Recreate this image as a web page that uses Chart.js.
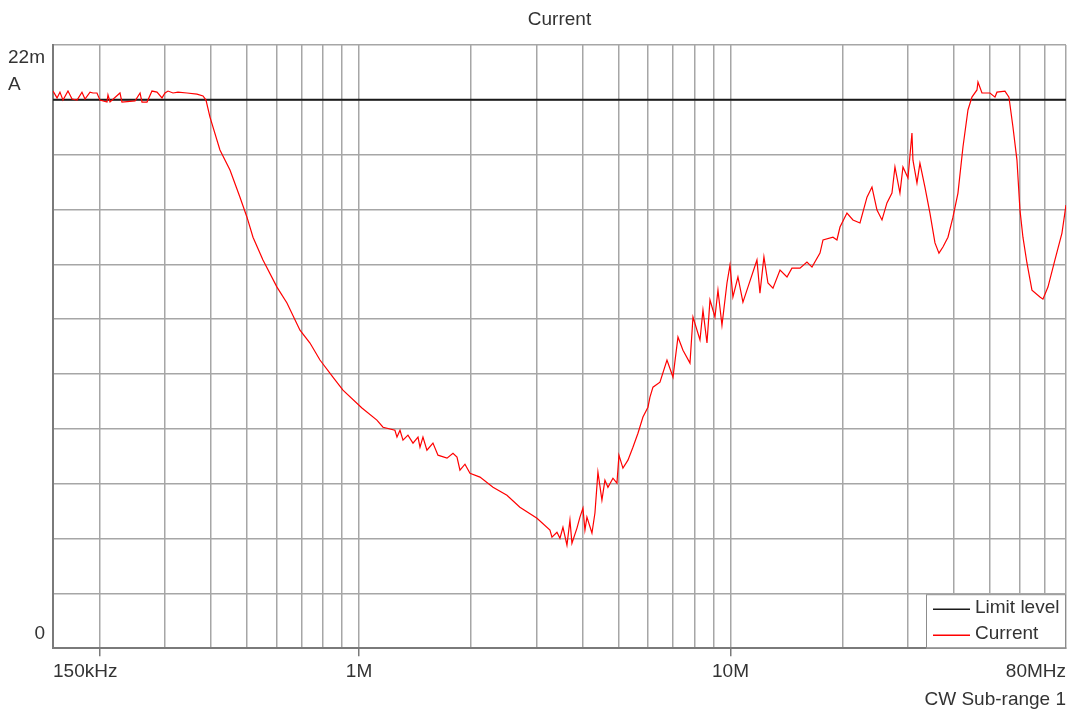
<!DOCTYPE html>
<html>
<head>
<meta charset="utf-8">
<script src="https://cdn.jsdelivr.net/npm/chart.js@4.4.1/dist/chart.umd.min.js"></script>
<style>
  html, body { margin: 0; padding: 0; background: #fff; }
  #wrap { width: 1073px; height: 711px; }
</style>
</head>
<body>
<div id="wrap"><canvas id="chart"></canvas></div>
<script>
  // frequency in MHz, current in mA
  const freqMHz = [
    0.15, 0.1538, 0.1566, 0.1596, 0.1646, 0.1688, 0.1741, 0.1795, 0.1829, 0.1887,
    0.1922, 0.1970, 0.2007, 0.2096, 0.2109, 0.2136, 0.2272, 0.2300, 0.2495, 0.2573,
    0.2604, 0.2687, 0.2770, 0.2858, 0.2948, 0.3003, 0.3060, 0.3156, 0.3255, 0.3442,
    0.3662, 0.3801, 0.3872, 0.3969, 0.4222, 0.4493, 0.4780, 0.4992, 0.5182, 0.5512,
    0.6012, 0.6396, 0.6934, 0.7377, 0.7848, 0.8505, 0.9050, 1.018, 1.117, 1.160,
    1.249, 1.265, 1.289, 1.313, 1.354, 1.397, 1.441, 1.459, 1.486, 1.523,
    1.581, 1.631, 1.725, 1.790, 1.835, 1.869, 1.928, 1.989, 2.116, 2.294,
    2.501, 2.710, 3.013, 3.265, 3.306, 3.410, 3.474, 3.539, 3.628, 3.696,
    3.742, 3.860, 3.932, 4.006, 4.056, 4.106, 4.236, 4.315, 4.396, 4.506,
    4.591, 4.677, 4.825, 4.946, 5.008, 5.133, 5.295, 5.461, 5.634, 5.811,
    5.994, 6.069, 6.183, 6.457, 6.744, 7.000, 7.220, 7.447, 7.778, 7.924,
    8.275, 8.430, 8.642, 8.804, 9.081, 9.251, 9.483, 9.782, 9.966, 10.15,
    10.47, 10.80, 11.14, 11.78, 12.00, 12.30, 12.61, 13.01, 13.59, 14.19,
    14.63, 15.38, 16.06, 16.57, 17.41, 17.74, 18.87, 19.34, 19.71, 20.58,
    21.36, 22.31, 23.30, 24.03, 24.79, 25.57, 26.37, 27.20, 27.71, 28.58,
    29.12, 30.04, 30.79, 30.98, 31.76, 32.35, 33.37, 34.42, 35.51, 36.40,
    37.31, 38.49, 39.70, 40.95, 42.24, 43.57, 44.66, 46.07, 46.36, 47.52,
    49.93, 51.51, 52.15, 54.80, 56.17, 57.58, 59.03, 60.14, 61.26, 62.80,
    64.78, 68.07, 69.35, 71.53, 74.70, 78.02, 80.00
  ];
  const currentmA = [
    20.32, 20.07, 20.28, 19.99, 20.32, 20.03, 19.99, 20.28, 20.03, 20.28,
    20.25, 20.25, 19.99, 19.92, 20.18, 19.92, 20.25, 19.92, 19.96, 20.25,
    19.92, 19.92, 20.32, 20.28, 20.07, 20.25, 20.32, 20.25, 20.28, 20.25,
    20.21, 20.14, 19.99, 19.37, 18.17, 17.44, 16.45, 15.72, 14.99, 14.16,
    13.17, 12.59, 11.60, 11.13, 10.51, 9.89, 9.41, 8.76, 8.32, 8.06,
    7.95, 7.70, 7.95, 7.59, 7.77, 7.48, 7.70, 7.33, 7.70, 7.22,
    7.48, 7.04, 6.93, 7.11, 6.97, 6.49, 6.71, 6.38, 6.24, 5.87,
    5.58, 5.14, 4.74, 4.31, 4.05, 4.23, 4.01, 4.41, 3.76, 4.67,
    3.83, 4.38, 4.78, 5.11, 4.31, 4.78, 4.20, 4.93, 6.42, 5.40,
    6.13, 5.87, 6.20, 6.02, 7.04, 6.57, 6.86, 7.33, 7.84, 8.43,
    8.79, 9.16, 9.52, 9.70, 10.51, 9.89, 11.35, 10.87, 10.40, 12.08,
    11.24, 12.33, 11.13, 12.70, 12.08, 13.06, 11.78, 13.32, 13.97, 12.81,
    13.54, 12.62, 13.17, 14.16, 12.95, 14.27, 13.32, 13.13, 13.79, 13.54,
    13.86, 13.86, 14.08, 13.90, 14.41, 14.89, 14.99, 14.89, 15.36, 15.87,
    15.62, 15.51, 16.45, 16.82, 15.98, 15.62, 16.24, 16.60, 17.55, 16.60,
    17.55, 17.15, 18.79, 17.80, 16.97, 17.69, 16.82, 15.87, 14.78, 14.41,
    14.63, 14.99, 15.72, 16.60, 18.28, 19.63, 20.10, 20.36, 20.65, 20.25,
    20.25, 20.10, 20.28, 20.32, 20.10, 19.01, 17.80, 15.98, 14.99, 14.05,
    13.06, 12.81, 12.73, 13.17, 14.16, 15.14, 16.16
  ];
  const limitFreqMHz = [0.15, 80];
  const limitmA = [20, 20];

  const xMin = 0.15, xMax = 80;
  const yMin = 0, yMax = 22, yStep = 2;
  const xGridValues = [
    0.15, 0.2, 0.3, 0.4, 0.5, 0.6, 0.7, 0.8, 0.9,
    1, 2, 3, 4, 5, 6, 7, 8, 9,
    10, 20, 30, 40, 50, 60, 70, 80
  ];
  const xLabelValues = [0.15, 1, 10, 80];
  const xLabelTexts = ['150kHz', '1M', '10M', '80MHz'];
  const xTickMarkValues = [0.2, 1, 10];
  const yTopLabel = ['22m', 'A'];
  const yBottomLabel = '0';

  const FONT = '"Liberation Sans", Arial, sans-serif';
  const TEXT = '#333';
  const GRID = '#a6a6a6';
  const AXIS = '#7a7a7a';

  Chart.defaults.font.family = FONT;
  Chart.defaults.font.size = 19;
  Chart.defaults.color = TEXT;

  const overlay = {
    id: 'overlay',
    afterDraw(chart) {
      const { ctx, chartArea, scales } = chart;
      ctx.save();
      ctx.font = '19px ' + FONT;
      ctx.fillStyle = TEXT;
      ctx.textBaseline = 'middle';

      // y axis end labels
      const yTop = scales.y.getPixelForValue(yMax);
      ctx.textAlign = 'left';
      ctx.fillText(yTopLabel[0], 8, yTop + 13);
      ctx.fillText(yTopLabel[1], 8, yTop + 40);
      ctx.textAlign = 'right';
      ctx.fillText(yBottomLabel, 45, scales.y.getPixelForValue(yMin) - 14);

      // legend box inside the plot, bottom right
      const w = 140, h = 54;
      const left = chartArea.right - w, top = chartArea.bottom - h;
      ctx.fillStyle = '#fff';
      ctx.fillRect(left, top, w, h);
      ctx.strokeStyle = '#8c8c8c';
      ctx.lineWidth = 1;
      ctx.strokeRect(left + 0.5, top + 0.5, w - 1, h - 1);
      ctx.textAlign = 'left';
      chart.data.datasets.forEach((ds, i) => {
        const yy = top + 15 + i * 26;
        ctx.strokeStyle = ds.borderColor;
        ctx.lineWidth = 1.5;
        ctx.beginPath();
        ctx.moveTo(left + 7, yy);
        ctx.lineTo(left + 44, yy);
        ctx.stroke();
        ctx.fillStyle = TEXT;
        ctx.fillText(ds.label, left + 49, yy - 1);
      });
      ctx.restore();
    }
  };

  new Chart(document.getElementById('chart'), {
    type: 'line',
    data: {
      datasets: [
        {
          label: 'Limit level',
          data: limitFreqMHz.map((f, i) => ({ x: f, y: limitmA[i] })),
          borderColor: '#1a1a1a',
          borderWidth: 2,
          pointRadius: 0,
          order: 1
        },
        {
          label: 'Current',
          data: freqMHz.map((f, i) => ({ x: f, y: currentmA[i] })),
          borderColor: '#ff0000',
          borderWidth: 1.2,
          pointRadius: 0,
          tension: 0,
          order: 0
        }
      ]
    },
    options: {
      responsive: true,
      maintainAspectRatio: false,
      animation: false,
      layout: { padding: { right: 7 } },
      plugins: {
        legend: { display: false },
        tooltip: { enabled: false },
        title: {
          display: true,
          text: 'Current',
          fullSize: false,
          color: TEXT,
          font: { size: 19, weight: 'normal', lineHeight: 1.2 },
          padding: { top: 8, bottom: 14.2 }
        },
        subtitle: {
          display: true,
          text: 'CW Sub-range 1',
          position: 'bottom',
          align: 'end',
          fullSize: false,
          color: TEXT,
          font: { size: 19, weight: 'normal', lineHeight: 1.2 },
          padding: 0
        }
      },
      scales: {
        x: {
          type: 'logarithmic',
          min: xMin,
          max: xMax,
          afterBuildTicks: scale => {
            scale.ticks = xGridValues.map(v => ({ value: v }));
          },
          afterFit: scale => { scale.height = 40; },
          ticks: {
            autoSkip: false,
            maxRotation: 0,
            align: 'inner',
            padding: 4,
            color: TEXT,
            callback: value => {
              const i = xLabelValues.indexOf(value);
              return i >= 0 ? xLabelTexts[i] : '';
            }
          },
          grid: {
            color: GRID,
            lineWidth: 1.5,
            tickLength: 8,
            tickColor: ctx => (ctx.tick && xTickMarkValues.includes(ctx.tick.value)) ? AXIS : 'rgba(0,0,0,0)'
          },
          border: { color: AXIS, width: 2 }
        },
        y: {
          min: yMin,
          max: yMax,
          afterFit: scale => { scale.width = 53; },
          ticks: {
            stepSize: yStep,
            callback: () => ''
          },
          grid: { color: GRID, lineWidth: 1.5, tickLength: 0 },
          border: { color: AXIS, width: 2 }
        }
      }
    },
    plugins: [overlay]
  });
</script>
</body>
</html>
